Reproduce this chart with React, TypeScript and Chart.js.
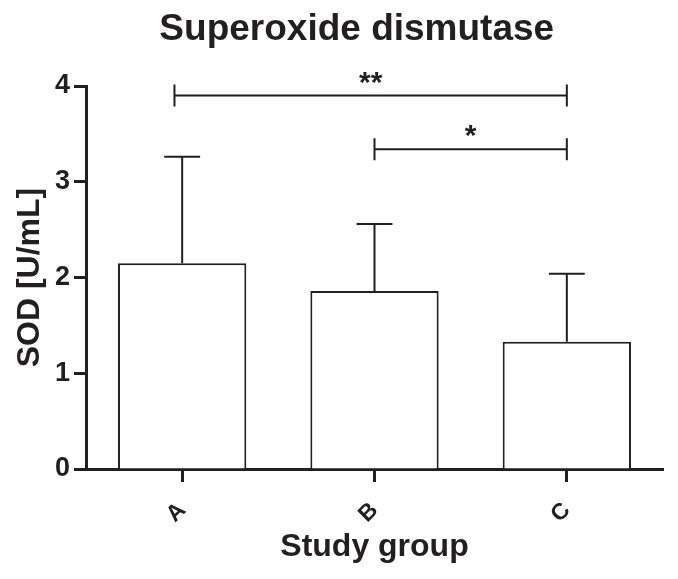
import { useEffect, useRef } from 'react';
import { Chart, registerables } from 'chart.js';

Chart.register(...registerables);

const categories = ['A', 'B', 'C'];
const means = [2.15, 1.86, 1.33];
const sds = [1.11, 0.7, 0.71];
const bracketFrom = [-0.04, 1];
const bracketTo = [2, 2];
const bracketY = [3.9, 3.34];
const bracketLabels = ['**', '*'];
const titleText = 'Superoxide dismutase';
const yTitleText = 'SOD [U/mL]';
const xTitleText = 'Study group';

const FONT = '"Liberation Sans", Arial, Helvetica, sans-serif';
const INK = '#231f20';

const annotatePlugin = {
  id: 'annotate',
  afterDatasetsDraw(chart: any) {
    const ctx = chart.ctx;
    const x = chart.scales.x;
    const y = chart.scales.y;
    const meta = chart.getDatasetMeta(0);
    ctx.save();
    ctx.strokeStyle = INK;
    ctx.lineWidth = 2;
    // error bars (upper only)
    meta.data.forEach((bar: any, i: number) => {
      const top = y.getPixelForValue(means[i] + sds[i]);
      const half = bar.width * 0.14;
      ctx.beginPath();
      ctx.moveTo(bar.x, bar.y);
      ctx.lineTo(bar.x, top);
      ctx.moveTo(bar.x - half, top);
      ctx.lineTo(bar.x + half, top);
      ctx.stroke();
    });
    // significance brackets
    ctx.fillStyle = INK;
    ctx.font = `bold 30px ${FONT}`;
    ctx.textAlign = 'center';
    ctx.textBaseline = 'middle';
    bracketY.forEach((v, i) => {
      const py = y.getPixelForValue(v);
      const x1 = x.getPixelForValue(bracketFrom[i]);
      const x2 = x.getPixelForValue(bracketTo[i]);
      ctx.beginPath();
      ctx.moveTo(x1, py);
      ctx.lineTo(x2, py);
      ctx.moveTo(x1, py - 11);
      ctx.lineTo(x1, py + 11);
      ctx.moveTo(x2, py - 11);
      ctx.lineTo(x2, py + 11);
      ctx.stroke();
      ctx.fillText(bracketLabels[i], (x1 + x2) / 2, py - 12);
    });
    ctx.restore();
  },
  afterDraw(chart: any) {
    const ctx = chart.ctx;
    const ca = chart.chartArea;
    ctx.save();
    ctx.fillStyle = INK;
    ctx.font = `bold 37px ${FONT}`;
    ctx.textAlign = 'center';
    ctx.textBaseline = 'alphabetic';
    const cx = (chart.width / 2 + (ca.left + ca.right) / 2) / 2;
    ctx.fillText(titleText, cx, 40);
    ctx.restore();
  },
};

export default function App() {
  const ref = useRef<HTMLCanvasElement>(null);
  useEffect(() => {
    if (!ref.current) return;
    const chart = new Chart(ref.current, {
      type: 'bar',
      data: {
        labels: categories,
        datasets: [
          {
            data: means,
            backgroundColor: '#ffffff',
            borderColor: INK,
            borderWidth: 2,
            barPercentage: 0.667,
            categoryPercentage: 1,
          },
        ],
      },
      options: {
        responsive: false,
        animation: false,
        layout: { padding: { top: 86, right: 15, left: 0, bottom: 0 } },
        plugins: {
          legend: { display: false },
          tooltip: { enabled: false },
          title: { display: false },
        },
        scales: {
          x: {
            afterFit: (s: any) => {
              s.height = 110;
            },
            grid: {
              offset: false,
              drawOnChartArea: false,
              drawTicks: true,
              tickLength: 13,
              tickWidth: 3,
              tickColor: INK,
            },
            border: { display: true, color: INK, width: 3 },
            ticks: {
              color: INK,
              font: { family: FONT, size: 23, weight: 'bold' },
              minRotation: 45,
              maxRotation: 45,
              padding: 15,
            },
            title: {
              display: true,
              text: xTitleText,
              color: INK,
              font: { family: FONT, size: 32, weight: 'bold', lineHeight: 1.2 },
              padding: { top: 0, bottom: 13 },
            },
          },
          y: {
            min: 0,
            max: 4,
            afterFit: (s: any) => {
              s.width = 86;
            },
            grid: {
              drawOnChartArea: false,
              drawTicks: true,
              tickLength: 12,
              tickWidth: 3,
              tickColor: INK,
            },
            border: { display: true, color: INK, width: 3 },
            ticks: {
              stepSize: 1,
              color: INK,
              font: { family: FONT, size: 27, weight: 'bold' },
              padding: 4,
            },
            title: {
              display: true,
              text: yTitleText,
              color: INK,
              font: { family: FONT, size: 32, weight: 'bold', lineHeight: 1.2 },
              padding: { top: 11, bottom: 0 },
            },
          },
        },
      },
      plugins: [annotatePlugin],
    });
    return () => chart.destroy();
  }, []);
  return (
    <div style={{ position: 'fixed', left: 0, top: 0, width: 678, height: 579, background: '#fff' }}>
      <canvas ref={ref} width={678} height={579} style={{ display: 'block' }} />
    </div>
  );
}
